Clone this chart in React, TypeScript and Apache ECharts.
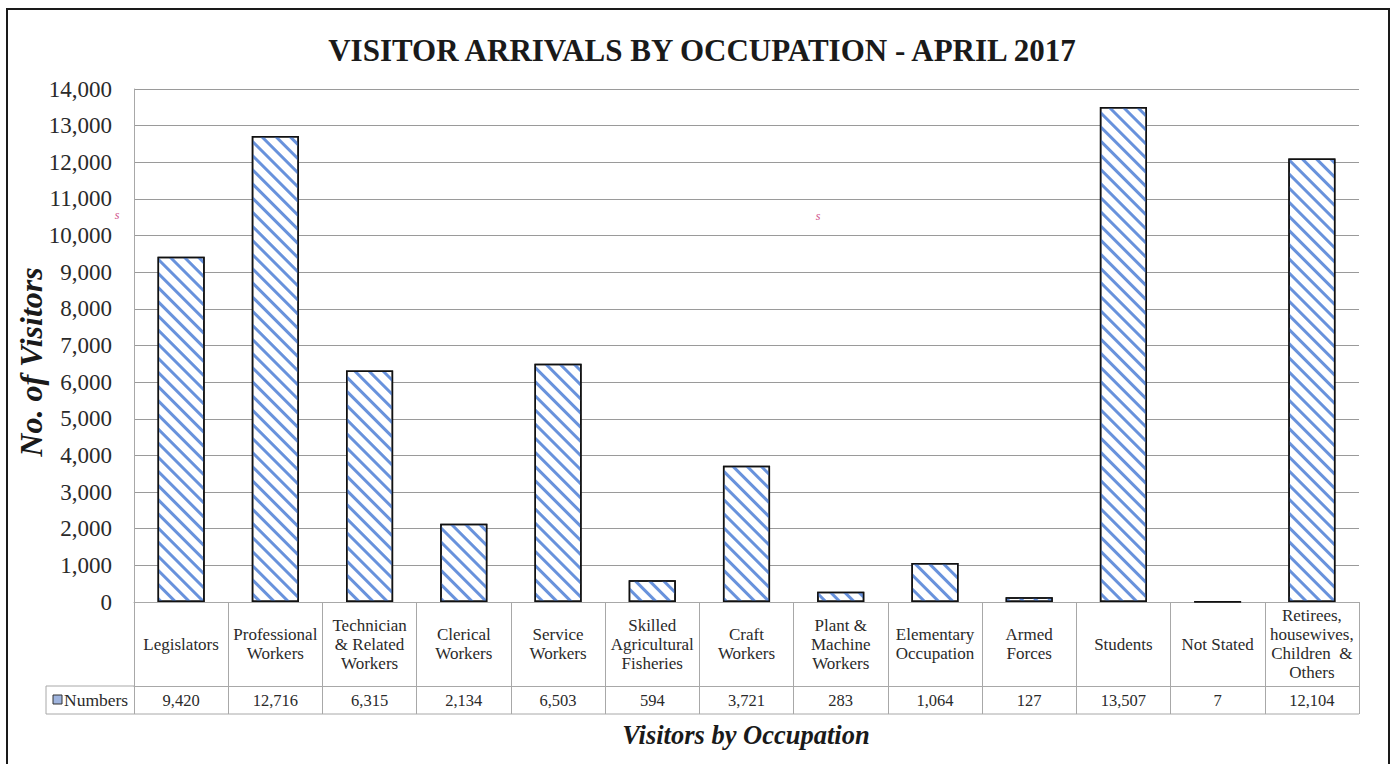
import React, { useEffect, useRef } from "react";
import * as echarts from "echarts";

const TITLE = "VISITOR ARRIVALS BY OCCUPATION - APRIL 2017";
const Y_TITLE = "No. of Visitors";
const X_TITLE = "Visitors by Occupation";
const SERIES_NAME = "Numbers";
const categories = [
  "Legislators",
  "Professional\nWorkers",
  "Technician\n& Related\nWorkers",
  "Clerical\nWorkers",
  "Service\nWorkers",
  "Skilled\nAgricultural\nFisheries",
  "Craft\nWorkers",
  "Plant &\nMachine\nWorkers",
  "Elementary\nOccupation",
  "Armed\nForces",
  "Students",
  "Not Stated",
  "Retirees,\nhousewives,\nChildren  &\nOthers",
];
const values = [9420, 12716, 6315, 2134, 6503, 594, 3721, 283, 1064, 127, 13507, 7, 12104];
const Y_MIN = 0;
const Y_MAX = 14000;
const Y_STEP = 1000;

const FONT = "'Liberation Serif', 'Times New Roman', serif";
const W = 1394;
const H = 764;
const G_LEFT = 134;
const G_RIGHT = 1359;
const G_TOP = 89;
const G_BOTTOM = 602;
const ROW1 = 686;
const ROW2 = 714;
const LEG_LEFT = 46;
const TABLE_COLOR = "#a8a8a8";

const fmt = (v: number) => v.toLocaleString("en-US");

export default function App() {
  const ref = useRef<HTMLDivElement>(null);
  useEffect(() => {
    if (!ref.current) return;
    const chart = echarts.init(ref.current, null, { renderer: "svg" });
    chart.setOption({
      animation: false,
      backgroundColor: "#ffffff",
      textStyle: { fontFamily: FONT },
      title: {
        text: TITLE,
        left: 697,
        textAlign: "center",
        top: 30,
        textStyle: { fontFamily: FONT, fontWeight: "bold", fontSize: 31, color: "#1a1a1a" },
      },
      grid: {
        left: G_LEFT,
        right: W - G_RIGHT,
        top: G_TOP,
        bottom: H - G_BOTTOM,
        containLabel: false,
        outerBoundsMode: "none",
      },
      xAxis: [
        {
          type: "category",
          data: categories,
          position: "bottom",
          axisLine: { show: true, lineStyle: { color: TABLE_COLOR, width: 1 } },
          axisTick: { show: true, length: ROW2 - G_BOTTOM, lineStyle: { color: TABLE_COLOR, width: 1 } },
          axisLabel: {
            interval: 0,
            margin: (ROW1 - G_BOTTOM) / 2,
            verticalAlign: "middle",
            fontFamily: FONT,
            fontSize: 17,
            lineHeight: 19,
            color: "#2a2a2a",
          },
        },
        {
          type: "category",
          data: values.map(fmt),
          position: "bottom",
          offset: ROW1 - G_BOTTOM,
          axisLine: { show: true, lineStyle: { color: TABLE_COLOR, width: 1 } },
          axisTick: { show: false },
          axisLabel: {
            interval: 0,
            margin: (ROW2 - ROW1) / 2,
            verticalAlign: "middle",
            fontFamily: FONT,
            fontSize: 16.5,
            color: "#2a2a2a",
          },
        },
      ],
      yAxis: {
        type: "value",
        min: Y_MIN,
        max: Y_MAX,
        interval: Y_STEP,
        axisLine: { show: true, lineStyle: { color: TABLE_COLOR, width: 1 } },
        axisTick: { show: false },
        axisLabel: { formatter: (v: number) => fmt(v), fontFamily: FONT, fontSize: 23, color: "#2a2a2a", margin: 22 },
        splitLine: { show: true, lineStyle: { color: "#9a9a9a", width: 1 } },
      },
      series: [
        {
          type: "bar",
          name: SERIES_NAME,
          data: values,
          xAxisIndex: 0,
          barWidth: "50%",
          itemStyle: {
            color: "#ffffff",
            borderColor: "#111111",
            borderWidth: 1.5,
            decal: {
              symbol: "rect",
              symbolSize: 1,
              dashArrayX: [1, 0],
              dashArrayY: [3, 7],
              rotation: Math.PI / 4,
              color: "#6892dc",
              backgroundColor: "#ffffff",
            },
          },
        },
      ],
      graphic: [
        {
          type: "rect",
          shape: { x: 7, y: 9, width: 1382, height: 800 },
          style: { fill: "none", stroke: "#1a1a1a", lineWidth: 2 },
          silent: true,
        },
        {
          type: "line",
          shape: { x1: LEG_LEFT, y1: ROW1, x2: G_LEFT, y2: ROW1 },
          style: { stroke: TABLE_COLOR, lineWidth: 1 },
        },
        {
          type: "line",
          shape: { x1: LEG_LEFT, y1: ROW2, x2: G_RIGHT, y2: ROW2 },
          style: { stroke: TABLE_COLOR, lineWidth: 1 },
        },
        {
          type: "line",
          shape: { x1: LEG_LEFT, y1: ROW1, x2: LEG_LEFT, y2: ROW2 },
          style: { stroke: TABLE_COLOR, lineWidth: 1 },
        },
        {
          type: "rect",
          shape: { x: 53, y: 695, width: 9, height: 9 },
          style: { fill: "#9fb4de", stroke: "#333", lineWidth: 1 },
        },
        {
          type: "text",
          x: 64,
          y: 700,
          style: { text: SERIES_NAME, fontFamily: FONT, fontSize: 17.5, fill: "#2a2a2a", verticalAlign: "middle" },
        },
        {
          type: "text",
          x: 31,
          y: 362,
          rotation: Math.PI / 2,
          style: {
            text: Y_TITLE,
            fontFamily: FONT,
            fontSize: 32,
            fontWeight: "bold",
            fontStyle: "italic",
            fill: "#1a1a1a",
            align: "center",
            verticalAlign: "middle",
          },
        },
        {
          type: "text",
          x: 746,
          y: 735,
          style: {
            text: X_TITLE,
            fontFamily: FONT,
            fontSize: 26.5,
            fontWeight: "bold",
            fontStyle: "italic",
            fill: "#1a1a1a",
            align: "center",
            verticalAlign: "middle",
          },
        },
        {
          type: "text",
          x: 117,
          y: 215,
          style: { text: "s", fontFamily: FONT, fontSize: 12, fontStyle: "italic", fill: "#d0508a", align: "center", verticalAlign: "middle" },
        },
        {
          type: "text",
          x: 818,
          y: 216,
          style: { text: "s", fontFamily: FONT, fontSize: 12, fontStyle: "italic", fill: "#d0508a", align: "center", verticalAlign: "middle" },
        },
      ],
    });
    return () => chart.dispose();
  }, []);
  return (
    <div
      ref={ref}
      style={{ position: "fixed", left: 0, top: 0, width: W, height: H, background: "#fff" }}
    />
  );
}
